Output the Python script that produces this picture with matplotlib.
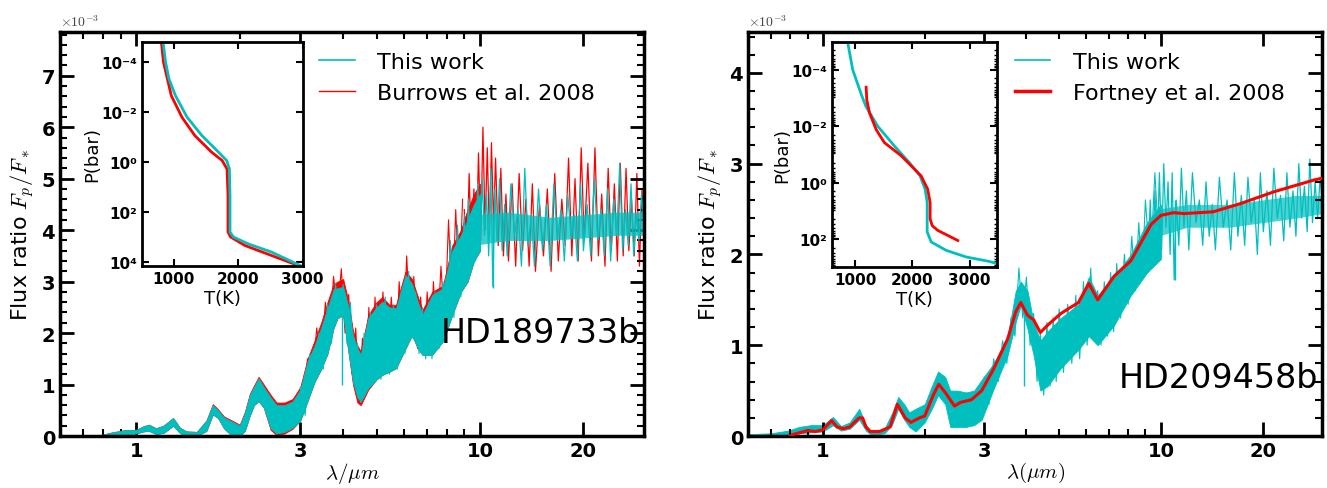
import matplotlib
matplotlib.use('Agg')
import numpy as np
import matplotlib.pyplot as plt
from matplotlib.ticker import NullFormatter

plt.rcParams['font.family'] = 'DejaVu Sans'
plt.rcParams['mathtext.fontset'] = 'cm'

CYAN = '#00bfbf'
RED = '#ff0000'

# ---------------- HD189733b (flux ratio in units of 1e-3) ----------------
lam_l = [0.78, 0.85, 0.92, 1.0, 1.05, 1.09, 1.14, 1.2, 1.28, 1.34, 1.4, 1.5, 1.6,
         1.67, 1.73, 1.8, 1.9, 2.0, 2.07, 2.14, 2.2, 2.27, 2.35, 2.46, 2.56, 2.7,
         2.85, 3.0, 3.15, 3.3, 3.45, 3.6, 3.75, 3.85, 4.0, 4.13, 4.27, 4.4, 4.5,
         4.73, 5.0, 5.2, 5.45, 5.7, 6.07, 6.34, 6.6, 6.8, 7.26, 7.8, 8.3, 8.8,
         9.2, 9.6, 10.0]
tw_lo_l = [0.0, 0.02, 0.04, 0.05, 0.09, 0.1, 0.04, 0.06, 0.2, 0.06, 0.0, 0.0, 0.1,
           0.42, 0.35, 0.15, 0.0, 0.0, 0.1, 0.4, 0.6, 0.68, 0.55, 0.15, 0.05, 0.08,
           0.16, 0.3, 0.68, 1.05, 1.3, 1.6, 2.1, 2.29, 2.35, 1.7, 1.06, 0.75, 0.67,
           0.93, 1.1, 1.19, 1.25, 1.32, 1.7, 1.96, 1.7, 1.58, 1.58, 1.84, 2.35, 2.8,
           3.0, 3.4, 3.6]
tw_hi_l = [0.01, 0.07, 0.11, 0.12, 0.19, 0.22, 0.15, 0.2, 0.35, 0.16, 0.09, 0.08, 0.3,
           0.6, 0.5, 0.36, 0.28, 0.2, 0.45, 0.8, 0.95, 1.12, 0.95, 0.75, 0.6, 0.6,
           0.67, 0.9, 1.45, 1.75, 2.1, 2.48, 2.85, 2.87, 2.9, 2.54, 1.96, 1.7, 1.58,
           2.29, 2.5, 2.61, 2.5, 2.48, 3.13, 2.96, 2.6, 2.35, 2.74, 2.87, 3.6, 3.9,
           4.2, 4.5, 4.7]
bu_lo_l = [0.0, 0.02, 0.04, 0.05, 0.09, 0.1, 0.04, 0.06, 0.2, 0.06, 0.0, 0.0, 0.1,
           0.42, 0.35, 0.15, 0.0, 0.0, 0.1, 0.4, 0.6, 0.68, 0.55, 0.12, 0.02, 0.05,
           0.14, 0.3, 0.68, 1.05, 1.3, 1.6, 2.1, 2.29, 2.35, 1.7, 1.0, 0.65, 0.6,
           0.9, 1.1, 1.19, 1.25, 1.32, 1.7, 1.96, 1.7, 1.58, 1.58, 1.84, 2.35, 2.8,
           3.0, 3.4, 3.6]
bu_hi_l = [0.01, 0.07, 0.11, 0.12, 0.19, 0.22, 0.15, 0.2, 0.35, 0.16, 0.09, 0.08, 0.3,
           0.62, 0.52, 0.38, 0.3, 0.22, 0.47, 0.82, 0.98, 1.15, 1.0, 0.8, 0.65, 0.65,
           0.72, 0.95, 1.5, 1.85, 2.2, 2.6, 2.95, 3.0, 3.05, 2.65, 2.05, 1.75, 1.65,
           2.35, 2.6, 2.7, 2.55, 2.55, 3.2, 3.05, 2.7, 2.45, 2.8, 2.92, 3.7, 4.0,
           4.4, 4.7, 4.9]

# noisy parts, 3-9 micron
tw_lam_ml = [3.0, 3.1, 3.2, 3.3, 3.4, 3.5, 3.6, 3.7, 3.8, 3.9, 4.0, 4.1, 4.2, 4.3,
             4.4, 4.5, 4.6, 4.7, 4.8, 4.9, 5.0, 5.15, 5.3, 5.45, 5.6, 5.75, 5.9, 6.05,
             6.2, 6.35, 6.5, 6.65, 6.8, 6.95, 7.1, 7.25, 7.4, 7.6, 7.8, 8.0, 8.2, 8.4,
             8.6, 8.8, 9.0]
tw_val_ml = [0.95, 0.4, 1.6, 1.0, 2.0, 1.3, 2.55, 1.8, 2.95, 2.3, 2.95, 1.8, 2.6, 1.0,
             1.8, 0.65, 2.0, 0.9, 2.4, 1.0, 2.55, 1.1, 2.7, 1.2, 2.55, 1.3, 2.8, 1.6,
             3.2, 1.9, 2.8, 1.6, 2.5, 1.5, 2.6, 1.5, 2.8, 1.7, 3.0, 2.0, 3.8, 2.3,
             4.1, 2.7, 4.3]
bu_lam_ml = [3.05, 3.15, 3.25, 3.35, 3.45, 3.55, 3.65, 3.75, 3.85, 3.95, 4.05, 4.15,
             4.25, 4.35, 4.45, 4.55, 4.65, 4.75, 4.85, 4.95, 5.08, 5.22, 5.38, 5.52,
             5.68, 5.82, 5.98, 6.12, 6.28, 6.42, 6.58, 6.72, 6.88, 7.02, 7.18, 7.32,
             7.5, 7.7, 7.9, 8.1, 8.3, 8.5, 8.7, 8.9]
bu_val_ml = [0.5, 1.5, 1.1, 2.1, 1.4, 2.6, 1.9, 3.1, 2.4, 3.25, 2.0, 2.75, 1.2, 2.1,
             0.7, 1.9, 0.95, 2.5, 1.1, 2.7, 1.2, 2.8, 1.3, 2.7, 1.4, 3.0, 1.7, 3.5,
             2.0, 3.1, 1.7, 2.7, 1.6, 2.8, 1.6, 3.0, 1.8, 3.3, 2.1, 4.2, 2.4, 4.4,
             2.8, 4.6]

# noisy parts, 9-30 micron
tw_lam_nl = [9.0, 9.1, 9.25, 9.4, 9.55, 9.7, 9.85, 10.0, 10.15, 10.3, 10.45, 10.6,
             10.75, 10.9, 11.05, 11.2, 11.4, 11.6, 11.8, 12.0, 12.3, 12.6, 12.9, 13.2,
             13.5, 13.8, 14.1, 14.4, 14.8, 15.2, 15.6, 16.0, 16.4, 16.8, 17.2, 17.6,
             18.0, 18.4, 18.8, 19.2, 19.6, 20.0, 20.5, 21.0, 21.5, 22.0, 22.5, 23.0,
             23.5, 24.0, 24.5, 25.0, 25.5, 26.0, 26.5, 27.0, 27.5, 28.0, 28.5, 29.0,
             29.5, 30.0]
tw_val_nl = [4.2, 3.0, 4.6, 3.3, 4.4, 3.4, 4.9, 3.6, 5.0, 3.9, 4.7, 3.5,
             5.2, 2.9, 4.8, 3.8, 5.0, 3.6, 4.5, 3.5, 4.9, 3.9, 4.4, 3.3,
             5.2, 3.7, 4.3, 3.3, 4.8, 3.6, 4.5, 3.3, 4.9, 3.8, 4.4, 3.4,
             4.7, 3.9, 4.3, 3.4, 4.9, 3.6, 4.5, 3.5, 5.0, 3.8, 4.4, 3.5,
             4.8, 3.4, 4.6, 3.9, 5.3, 3.6, 4.4, 3.7, 4.9, 3.5, 4.3, 3.8,
             4.7, 4.1]
bu_lam_nl = [9.0, 9.15, 9.3, 9.45, 9.6, 9.75, 9.9, 10.05, 10.2, 10.35, 10.5, 10.65,
             10.8, 10.95, 11.1, 11.3, 11.5, 11.7, 11.9, 12.1, 12.4, 12.7, 13.0, 13.3,
             13.6, 13.9, 14.2, 14.5, 14.9, 15.3, 15.7, 16.1, 16.5, 16.9, 17.3, 17.7,
             18.1, 18.5, 18.9, 19.3, 19.7, 20.1, 20.6, 21.1, 21.6, 22.1, 22.6, 23.1,
             23.6, 24.1, 24.6, 25.1, 25.6, 26.1, 26.6, 27.1, 27.6, 28.1, 28.6, 29.1,
             29.6, 30.0]
bu_val_nl = [4.4, 3.3, 5.1, 3.5, 4.8, 3.6, 5.5, 3.8, 6.0, 4.0, 5.6, 3.9,
             5.7, 4.1, 5.4, 3.7, 5.2, 3.5, 4.7, 3.4, 4.9, 3.3, 5.1, 3.6,
             4.6, 3.3, 4.9, 3.2, 4.5, 3.5, 4.8, 3.2, 5.1, 3.4, 4.6, 3.7,
             5.4, 3.5, 5.0, 3.4, 5.6, 3.8, 5.3, 3.4, 5.6, 3.5, 4.7, 3.3,
             5.2, 3.6, 4.9, 3.4, 5.3, 3.5, 5.2, 3.6, 4.6, 3.5, 5.1, 3.3,
             4.8, 4.0]
core_lam_l = [9.5, 12.0, 16.0, 20.0, 25.0, 30.0]
core_lo_l = [3.7, 3.8, 3.8, 3.85, 3.9, 3.9]
core_hi_l = [4.3, 4.35, 4.25, 4.3, 4.35, 4.35]
spike_lam_l = [3.98, 10.9]
spike_lo_l = [1.0, 2.87]
spike_hi_l = [2.5, 4.2]

# P-T profiles, HD189733b
tw_T_l = [831, 871, 923, 1025, 1205, 1435, 1692, 1820, 1862, 1871, 1871, 1923, 2154, 2512, 2974]
tw_P_l = [1.5e-5, 1e-4, 4.7e-4, 2.2e-3, 1.6e-2, 8.7e-2, 0.4, 0.87, 1.9, 22, 630, 1000, 1900, 4000, 1.45e4]
bu_T_l = [805, 838, 960, 1125, 1325, 1585, 1750, 1825, 1840, 1840, 1880, 2102, 2512, 2948]
bu_P_l = [1.5e-5, 1e-4, 2.2e-3, 1.6e-2, 8.7e-2, 0.4, 0.87, 1.9, 22, 630, 1000, 2200, 5500, 1.45e4]

# ---------------- HD209458b ----------------
lam_r = [0.6, 0.7, 0.79, 0.85, 0.92, 1.0, 1.07, 1.13, 1.2, 1.28, 1.34, 1.38, 1.45,
         1.52, 1.6, 1.67, 1.74, 1.8, 1.88, 2.0, 2.1, 2.19, 2.3, 2.38, 2.5, 2.65,
         2.8, 2.95, 3.2, 3.52, 3.72, 3.85, 4.03, 4.2, 4.4, 4.62, 5.06, 5.7, 6.12,
         6.5, 7.27, 8.15, 9.1, 10.0]
tw_lo_r = [0.0, 0.0, 0.01, 0.03, 0.04, 0.05, 0.12, 0.06, 0.08, 0.18, 0.06, 0.02, 0.02,
           0.03, 0.12, 0.3, 0.18, 0.1, 0.05, 0.15, 0.3, 0.45, 0.35, 0.1, 0.1, 0.1,
           0.12, 0.18, 0.52, 0.89, 1.26, 1.44, 1.18, 0.89, 0.5, 0.55, 0.75, 0.95, 1.1,
           1.0, 1.22, 1.55, 1.8, 1.95]
tw_hi_r = [0.02, 0.03, 0.06, 0.1, 0.12, 0.12, 0.21, 0.11, 0.15, 0.3, 0.12, 0.06, 0.06,
           0.08, 0.25, 0.43, 0.35, 0.26, 0.3, 0.35, 0.55, 0.71, 0.65, 0.5, 0.5, 0.48,
           0.5, 0.62, 0.8, 1.1, 1.6, 1.7, 1.6, 1.25, 1.05, 1.15, 1.3, 1.45, 1.75,
           1.55, 1.75, 2.0, 2.35, 2.55]
tw_lam_mr = [3.0, 3.1, 3.2, 3.3, 3.4, 3.5, 3.6, 3.7, 3.8, 3.9, 4.0, 4.1, 4.2, 4.3,
             4.4, 4.5, 4.6, 4.7, 4.8, 4.9, 5.0, 5.15, 5.3, 5.45, 5.6, 5.75, 5.9, 6.05,
             6.2, 6.35, 6.5, 6.65, 6.8, 6.95, 7.1, 7.25, 7.4, 7.6, 7.8, 8.0, 8.2, 8.4,
             8.6, 8.8, 9.0, 9.3, 9.6, 9.9]
tw_val_mr = [0.65, 0.35, 0.85, 0.6, 1.05, 0.8, 1.3, 1.1, 1.85, 1.3, 1.75, 1.0, 1.35, 0.6,
             1.15, 0.45, 1.25, 0.55, 1.3, 0.6, 1.4, 0.7, 1.45, 0.8, 1.55, 0.85, 1.7, 1.0,
             1.85, 1.05, 1.6, 1.0, 1.7, 1.1, 1.8, 1.15, 1.9, 1.3, 2.0, 1.45, 2.2, 1.6,
             2.35, 1.75, 2.6, 1.85, 2.9, 2.0]
tw_lam_nr = [9.0, 9.15, 9.3, 9.45, 9.6, 9.75, 9.9, 10.05, 10.2, 10.35, 10.5, 10.65,
             10.8, 10.95, 11.1, 11.3, 11.5, 11.7, 11.9, 12.1, 12.4, 12.7, 13.0, 13.3,
             13.6, 13.9, 14.2, 14.5, 14.9, 15.3, 15.7, 16.1, 16.5, 16.9, 17.3, 17.7,
             18.1, 18.5, 18.9, 19.3, 19.7, 20.1, 20.6, 21.1, 21.6, 22.1, 22.6, 23.1,
             23.6, 24.1, 24.6, 25.1, 25.6, 26.1, 26.6, 27.1, 27.6, 28.1, 28.6, 29.1,
             29.6, 30.0]
tw_val_nr = [2.3, 1.8, 2.6, 1.9, 2.7, 2.0, 2.9, 2.05, 3.0, 2.3, 2.8, 2.0,
             2.9, 1.72, 2.6, 2.1, 2.95, 2.3, 2.7, 2.05, 2.9, 2.35, 2.6, 2.1,
             2.8, 2.2, 2.55, 2.05, 2.85, 2.3, 2.6, 2.05, 2.9, 2.2, 2.65, 2.1,
             2.85, 2.35, 2.6, 2.0, 2.9, 2.25, 2.7, 2.1, 2.95, 2.4, 2.65, 2.15,
             2.9, 2.3, 2.7, 2.2, 3.0, 2.4, 2.75, 2.25, 3.05, 2.35, 2.8, 2.4,
             2.85, 2.6]
core_lam_r = [9.8, 12.0, 16.0, 20.0, 25.0, 30.0]
core_lo_r = [2.2, 2.3, 2.3, 2.35, 2.4, 2.45]
core_hi_r = [2.5, 2.55, 2.55, 2.6, 2.65, 2.65]
spike_lam_r = [3.93, 11.0]
spike_lo_r = [0.55, 1.72]
spike_hi_r = [1.6, 2.6]

fo_lam = [0.8, 0.82, 0.86, 0.9, 0.95, 1.0, 1.06, 1.1, 1.15, 1.2, 1.28, 1.31, 1.34,
          1.38, 1.47, 1.58, 1.66, 1.75, 1.82, 1.93, 2.0, 2.12, 2.2, 2.3, 2.45, 2.55,
          2.75, 2.95, 3.2, 3.52, 3.72, 3.85, 4.03, 4.2, 4.4, 4.62, 5.06, 5.7, 6.12,
          6.5, 7.27, 8.15, 9.35, 10.0, 10.9, 11.7, 14.3, 17.2, 21.6, 28.4, 30.0]
fo_val = [0.0, 0.02, 0.04, 0.06, 0.05, 0.07, 0.17, 0.1, 0.08, 0.1, 0.2, 0.2, 0.1,
          0.05, 0.05, 0.1, 0.35, 0.2, 0.15, 0.2, 0.22, 0.45, 0.57, 0.48, 0.33, 0.37,
          0.4, 0.5, 0.74, 1.07, 1.37, 1.47, 1.33, 1.28, 1.14, 1.22, 1.35, 1.47, 1.68,
          1.5, 1.76, 1.93, 2.33, 2.43, 2.46, 2.45, 2.47, 2.56, 2.69, 2.82, 2.84]

tw_T_r = [871, 958, 1120, 1190, 1396, 1687, 1949, 2136, 2224, 2259, 2259, 2329, 2591, 2941, 3348, 3480]
tw_P_r = [1.1e-5, 1e-4, 8.7e-4, 2e-3, 1e-2, 5e-2, 0.195, 0.575, 1.7, 5, 55, 126, 250, 430, 620, 740]
fo_T = [1192, 1203, 1250, 1367, 1512, 1804, 1979, 2154, 2269, 2311, 2311, 2346, 2444, 2619, 2794]
fo_P = [4.1e-4, 1.15e-3, 3.3e-3, 1.3e-2, 3.8e-2, 0.11, 0.25, 0.575, 1.7, 5, 19, 33, 49, 74, 112]

xticks_major = [1, 3, 10, 20]
xticks_minor = [0.7, 0.8, 0.9, 2, 4, 5, 6, 7, 8, 9]


def style_main(ax, ymax, ymajor):
    ax.set_xscale('log')
    ax.set_xlim(0.6, 30)
    ax.set_ylim(0, ymax)
    ax.set_xticks(xticks_major)
    ax.set_xticklabels([str(t) for t in xticks_major], fontweight='bold', fontsize=14)
    ax.set_xticks(xticks_minor, minor=True)
    ax.xaxis.set_minor_formatter(NullFormatter())
    ax.set_yticks(ymajor)
    ax.set_yticklabels([str(t) for t in ymajor], fontweight='bold', fontsize=14)
    ax.set_yticks(np.arange(0, ymax, 0.2), minor=True)
    ax.tick_params(which='both', direction='in', top=True, right=True)
    ax.tick_params(which='major', length=10, width=2)
    ax.tick_params(which='minor', length=5, width=1.5)
    for s in ax.spines.values():
        s.set_linewidth(2.5)
    ax.set_ylabel(r'Flux ratio $F_p/F_*$', fontsize=16)
    ax.text(0.0, 1.008, r'$\times10^{-3}$', transform=ax.transAxes, fontsize=10,
            color='#444444', va='bottom')


def style_inset(ax, xmin, xmax, ymin, ymax):
    ax.set_yscale('log')
    ax.set_xlim(xmin, xmax)
    ax.set_xticks([1000, 2000, 3000])
    ax.set_xticklabels(['1000', '2000', '3000'], fontweight='bold', fontsize=11)
    yt = [1e-4, 1e-2, 1, 1e2, 1e4]
    ax.set_yticks(yt)
    ax.set_yticklabels(['10⁻⁴', '10⁻²', '10⁰', '10²', '10⁴'], fontweight='bold', fontsize=11)
    ax.set_ylim(ymax, ymin)
    ax.yaxis.set_minor_formatter(NullFormatter())
    ax.tick_params(which='both', direction='in', top=True, right=True)
    ax.tick_params(which='major', length=5, width=1.5)
    ax.tick_params(which='minor', length=2.5, width=1)
    for s in ax.spines.values():
        s.set_linewidth(2)
    ax.set_xlabel('T(K)', fontsize=13, labelpad=2)
    ax.set_ylabel('P(bar)', fontsize=13, labelpad=0)


fig = plt.figure(figsize=(13.27, 4.89), dpi=100)

# ---- left panel
ax1 = fig.add_axes([0.0452, 0.1063, 0.4401, 0.8262])
ax1.fill_between(lam_l, bu_lo_l, bu_hi_l, color=RED, lw=0.6, zorder=1)
ax1.plot(bu_lam_ml, bu_val_ml, color=RED, lw=0.8, zorder=1)
ax1.plot(bu_lam_nl, bu_val_nl, color=RED, lw=0.9, zorder=1)
ax1.fill_between(lam_l, tw_lo_l, tw_hi_l, color=CYAN, lw=0.6, zorder=2)
ax1.plot(tw_lam_ml, tw_val_ml, color=CYAN, lw=0.8, zorder=2)
ax1.plot(tw_lam_nl, tw_val_nl, color=CYAN, lw=0.9, zorder=2)
ax1.fill_between(core_lam_l, core_lo_l, core_hi_l, color=CYAN, alpha=0.75, lw=0, zorder=2)
ax1.vlines(spike_lam_l, spike_lo_l, spike_hi_l, color=CYAN, lw=1.0, zorder=2)
style_main(ax1, 7.85, list(range(0, 8)))
ax1.set_xlabel(r'$\lambda/\mu m$', fontsize=15, labelpad=0)
h1, = ax1.plot([], [], color=CYAN, lw=1.2)
h2, = ax1.plot([], [], color=RED, lw=1.0)
ax1.legend([h1, h2], ['This work', 'Burrows et al. 2008'], loc='upper left',
           bbox_to_anchor=(0.41, 1.0), frameon=False, fontsize=16,
           handlelength=1.6, handletextpad=1.0)
ax1.text(0.993, 0.257, 'HD189733b', transform=ax1.transAxes, fontsize=24,
         ha='right', va='center')

ins1 = fig.add_axes([0.1068, 0.4534, 0.1213, 0.4593])
ins1.plot(bu_T_l, bu_P_l, color=RED, lw=2)
ins1.plot(tw_T_l, tw_P_l, color=CYAN, lw=2)
style_inset(ins1, 500, 3000, 1.5e-5, 1.5e4)

# ---- right panel
ax2 = fig.add_axes([0.5637, 0.1063, 0.4326, 0.8262])
ax2.fill_between(lam_r, tw_lo_r, tw_hi_r, color=CYAN, lw=0.6, zorder=1)
ax2.plot(tw_lam_mr, tw_val_mr, color=CYAN, lw=0.8, zorder=1)
ax2.plot(tw_lam_nr, tw_val_nr, color=CYAN, lw=0.9, zorder=1)
ax2.fill_between(core_lam_r, core_lo_r, core_hi_r, color=CYAN, alpha=0.7, lw=0, zorder=1)
ax2.vlines(spike_lam_r, spike_lo_r, spike_hi_r, color=CYAN, lw=1.0, zorder=1)
ax2.plot(fo_lam, fo_val, color=RED, lw=2.2, zorder=3)
style_main(ax2, 4.45, [0, 1, 2, 3, 4])
ax2.set_xlabel(r'$\lambda(\mu m)$', fontsize=15, labelpad=0)
h3, = ax2.plot([], [], color=CYAN, lw=1.2)
h4, = ax2.plot([], [], color=RED, lw=2.5)
ax2.legend([h3, h4], ['This work', 'Fortney et al. 2008'], loc='upper left',
           bbox_to_anchor=(0.43, 1.0), frameon=False, fontsize=16,
           handlelength=1.6, handletextpad=1.0)
ax2.text(0.993, 0.146, 'HD209458b', transform=ax2.transAxes, fontsize=24,
         ha='right', va='center')

ins2 = fig.add_axes([0.6272, 0.4513, 0.1241, 0.4613])
ins2.plot(tw_T_r, tw_P_r, color=CYAN, lw=2)
ins2.plot(fo_T, fo_P, color=RED, lw=2)
style_inset(ins2, 600, 3480, 1e-5, 1e3)

fig.savefig('out.png', dpi=100)
